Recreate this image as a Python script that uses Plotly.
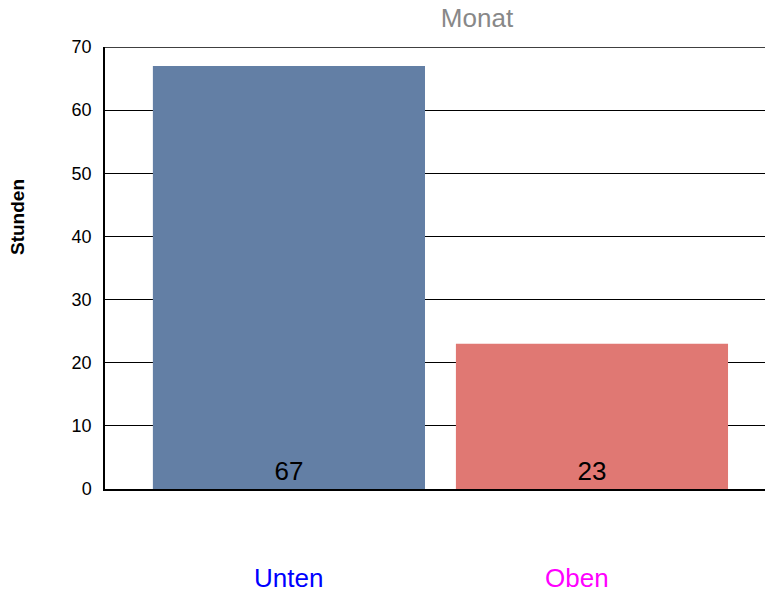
import plotly.graph_objects as go

# Stunden pro Monat, aufgeteilt nach Bereich
categories = ["Unten", "Oben"]
hours = [67, 23]
bar_colors = ["#637FA5", "#E07873"]
label_colors = ["#0000FF", "#FF00FF"]
label_shift = [0, -15]
y_ticks = [0, 10, 20, 30, 40, 50, 60, 70]

FONT = "Liberation Sans, Arial, sans-serif"

fig = go.Figure(
    go.Bar(
        x=list(range(len(categories))),
        y=hours,
        marker=dict(color=bar_colors, line=dict(width=0)),
        width=0.898,
        text=[str(v) for v in hours],
        textposition="inside",
        insidetextanchor="start",
        textangle=0,
        textfont=dict(family=FONT, size=26, color="black"),
        hoverinfo="skip",
    )
)

# colored category names below the plot
for i, (name, col, dx) in enumerate(zip(categories, label_colors, label_shift)):
    fig.add_annotation(
        x=i, y=-0.202, xref="x", yref="paper", xshift=dx,
        text=name, showarrow=False,
        font=dict(family=FONT, size=26, color=col),
        xanchor="center", yanchor="middle",
    )

# axis title
fig.add_annotation(
    x=(18 - 105) / 660, y=(489 - 217) / 442, xref="paper", yref="paper",
    text="<b>Stunden</b>", showarrow=False, textangle=-90,
    font=dict(family=FONT, size=19, color="black"),
    xanchor="center", yanchor="middle",
)

# top border line at the upper end of the value axis
fig.add_shape(
    type="line", xref="paper", yref="y",
    x0=0, x1=1, y0=y_ticks[-1], y1=y_ticks[-1],
    line=dict(color="black", width=1.5),
)

fig.update_layout(
    width=765, height=595,
    margin=dict(l=105, r=0, t=47, b=106),
    paper_bgcolor="white", plot_bgcolor="white",
    showlegend=False,
    title=dict(
        text="Monat", x=477 / 765, xanchor="center", y=1 - 18 / 595, yanchor="middle",
        font=dict(family=FONT, size=26, color="#888888"),
    ),
    xaxis=dict(
        range=[-0.607, 1.571],
        showticklabels=False, ticks="",
        showgrid=False, zeroline=False,
        showline=True, linecolor="black", linewidth=2,
        fixedrange=True,
    ),
    yaxis=dict(
        range=[0, 70], tickvals=y_ticks,
        tickfont=dict(family=FONT, size=18, color="black"),
        showgrid=True, gridcolor="black", gridwidth=1,
        zeroline=False,
        showline=True, linecolor="black", linewidth=1.5,
        ticks="", ticklabelstandoff=8,
        fixedrange=True,
    ),
)

fig.write_html("out.html")
